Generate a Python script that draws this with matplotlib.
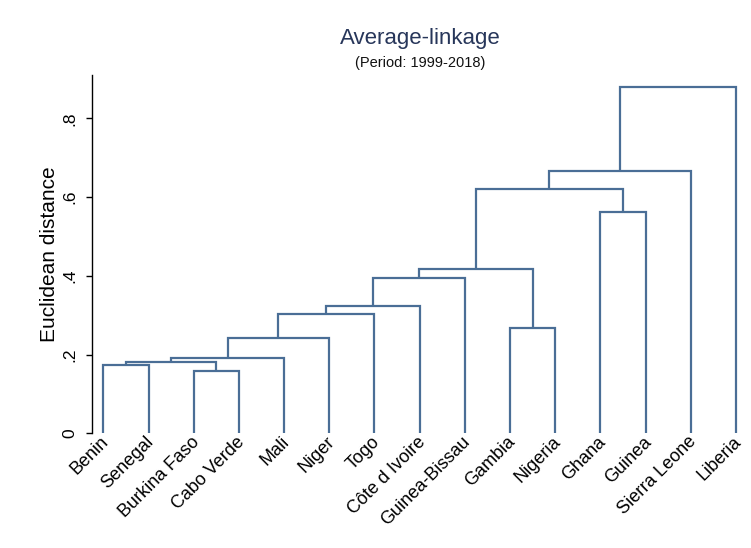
#!/usr/bin/env python3
"""Average-linkage dendrogram, Stata-style, drawn by hand from merge heights."""

import matplotlib
matplotlib.use("Agg")
import matplotlib.pyplot as plt
from matplotlib.transforms import ScaledTranslation

plt.rcParams["font.family"] = ["Liberation Sans", "DejaVu Sans"]

# leaves in plot order
countries = ["Benin", "Senegal", "Burkina Faso", "Cabo Verde", "Mali", "Niger",
             "Togo", "Côte d Ivoire", "Guinea-Bissau", "Gambia", "Nigeria",
             "Ghana", "Guinea", "Sierra Leone", "Liberia"]

# merges: new clusters numbered 15, 16, ... in this order
merge_left = [0, 2, 15, 17, 18, 19, 20, 21, 9, 22, 11, 24, 26, 27]
merge_right = [1, 3, 16, 4, 5, 6, 7, 8, 10, 23, 12, 25, 13, 14]
merge_height = [0.173, 0.157, 0.180, 0.192, 0.242, 0.303, 0.324, 0.395,
                0.268, 0.417, 0.561, 0.621, 0.665, 0.880]

yticks = [0, 0.2, 0.4, 0.6, 0.8]
ytick_labels = ["0", ".2", ".4", ".6", ".8"]

LINE = "#4a6e96"

fig = plt.figure(figsize=(7.51, 5.48), dpi=100)
ax = fig.add_axes([0.1221, 0.2093, 0.870, 0.6538])

# x position and height of each node
xpos = {i: i + 1 for i in range(len(countries))}
ypos = {i: 0.0 for i in range(len(countries))}
for k, (a, b, h) in enumerate(zip(merge_left, merge_right, merge_height)):
    node = len(countries) + k
    ax.plot([xpos[a], xpos[a], xpos[b], xpos[b]], [ypos[a], h, h, ypos[b]],
            color=LINE, lw=1.6, solid_joinstyle="miter", solid_capstyle="butt")
    xpos[node] = (xpos[a] + xpos[b]) / 2
    ypos[node] = h

ax.set_xlim(0.743, 15.2)
ax.set_ylim(0, 0.91)

for s in ["top", "right", "bottom"]:
    ax.spines[s].set_visible(False)
ax.spines["left"].set_bounds(0, 0.91)
ax.spines["left"].set_linewidth(1.0)

ax.set_yticks(yticks)
ax.set_yticklabels(ytick_labels, rotation=90, va="center", fontsize=12.5)
ax.tick_params(axis="y", length=4, width=1.0, pad=6)

ax.set_xticks(range(1, len(countries) + 1))
ax.set_xticklabels(countries, rotation=45, ha="right", va="top",
                   rotation_mode="anchor", fontsize=13)
ax.tick_params(axis="x", length=0, pad=0)
shift = ScaledTranslation(-0.03, 0.0, fig.dpi_scale_trans)
for lab in ax.get_xticklabels():
    lab.set_transform(lab.get_transform() + shift)

ax.set_ylabel("Euclidean distance", fontsize=15, labelpad=3)

fig.text(0.56, 0.930, "Average-linkage", ha="center", va="center",
         fontsize=16, color="#27365a")
fig.text(0.56, 0.885, "(Period: 1999-2018)", ha="center", va="center",
         fontsize=10.5, color="#111111")

fig.savefig("out.png", dpi=100)
